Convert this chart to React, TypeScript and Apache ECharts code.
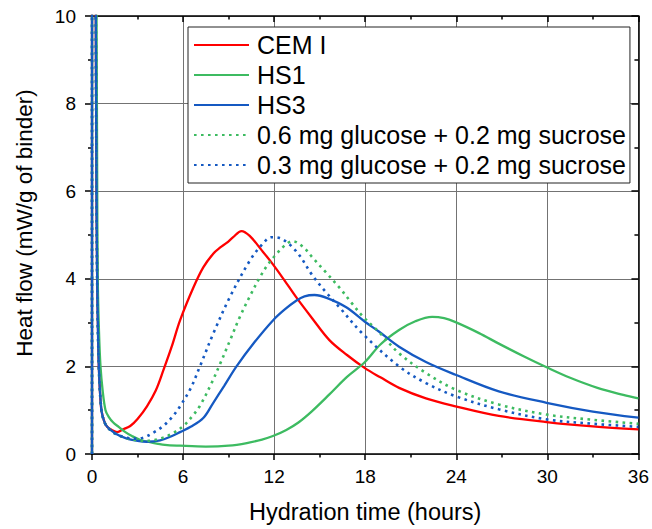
import React, { useEffect, useRef } from "react";
import * as echarts from "echarts";

// ---- Data (hours, mW/g of binder) ----
const xTicks = [0, 6, 12, 18, 24, 30, 36];
const yTicks = [0, 2, 4, 6, 8, 10];

const seriesNames = [
  "CEM I",
  "HS1",
  "HS3",
  "0.6 mg glucose + 0.2 mg sucrose",
  "0.3 mg glucose + 0.2 mg sucrose",
];

const cemT = [0, 0.03, 0.25, 0.29, 0.34, 0.4, 0.45, 0.53, 0.62, 0.8, 1.0, 1.3, 1.65, 2.09, 2.52, 3.0, 3.62, 4.2, 4.71, 5.25, 5.8, 6.68, 7.33, 8.0, 8.43, 8.87, 9.3, 9.85, 10.39, 11.16, 11.92, 12.69, 13.45, 14.5, 15.64, 16.8, 17.98, 19.0, 20.23, 22.0, 23.95, 26.8, 29.95, 33.0, 36.0];
const cemV = [0, 30, 10, 6.5, 4, 2.8, 2, 1.4, 1.0, 0.75, 0.62, 0.55, 0.5, 0.57, 0.64, 0.8, 1.09, 1.45, 1.92, 2.45, 3.05, 3.8, 4.26, 4.58, 4.71, 4.82, 4.95, 5.09, 4.98, 4.66, 4.33, 3.96, 3.58, 3.1, 2.6, 2.26, 1.96, 1.75, 1.51, 1.27, 1.09, 0.87, 0.73, 0.63, 0.56];

const hs1T = [0, 0.05, 0.3, 0.34, 0.38, 0.46, 0.56, 0.7, 0.89, 1.1, 1.4, 1.76, 2.2, 2.63, 3.2, 3.95, 4.8, 5.8, 7.5, 9.0, 10.2, 11.2, 11.92, 12.8, 13.6, 14.5, 15.64, 16.8, 17.98, 19.0, 20.23, 21.3, 22.41, 23.2, 23.95, 25.5, 26.8, 28.5, 29.95, 31.5, 33.3, 35.0, 36.0];
const hs1V = [0, 30, 10, 6.5, 4, 2.8, 2.0, 1.45, 1.0, 0.85, 0.72, 0.62, 0.5, 0.41, 0.32, 0.26, 0.21, 0.19, 0.17, 0.19, 0.25, 0.33, 0.41, 0.55, 0.72, 0.98, 1.36, 1.76, 2.1, 2.5, 2.83, 3.03, 3.13, 3.1, 3.01, 2.76, 2.52, 2.22, 1.98, 1.74, 1.51, 1.35, 1.27];

const hs3T = [0, 0.01, 0.25, 0.29, 0.34, 0.45, 0.62, 0.8, 1.0, 1.54, 2.3, 3.0, 3.62, 4.49, 5.2, 5.8, 6.5, 7.33, 7.99, 8.7, 9.52, 10.7, 11.92, 12.7, 13.45, 14.0, 14.66, 15.5, 16.75, 17.98, 18.92, 20.23, 22.0, 23.95, 26.8, 29.95, 33.0, 36.0];
const hs3V = [0, 30, 10, 6.5, 4, 2, 1, 0.75, 0.62, 0.47, 0.35, 0.3, 0.28, 0.31, 0.4, 0.5, 0.62, 0.82, 1.17, 1.55, 2.0, 2.55, 3.05, 3.3, 3.5, 3.6, 3.63, 3.56, 3.35, 3.02, 2.79, 2.45, 2.1, 1.81, 1.43, 1.17, 0.97, 0.83];

const g06T = [0, 0.03, 0.25, 0.29, 0.34, 0.45, 0.62, 0.8, 1.0, 1.5, 2.3, 3.0, 3.62, 4.49, 5.2, 6.02, 6.6, 7.11, 7.88, 8.43, 9.1, 9.74, 10.4, 11.05, 11.6, 12.14, 12.7, 13.2, 13.9, 14.54, 15.4, 16.3, 17.1, 17.82, 18.92, 20.23, 22.0, 23.95, 26.8, 29.95, 33.0, 36.0];
const g06V = [0, 30, 10, 6.5, 4, 2, 1, 0.75, 0.62, 0.47, 0.36, 0.31, 0.3, 0.35, 0.45, 0.64, 0.86, 1.1, 1.62, 2.05, 2.6, 3.13, 3.6, 4.03, 4.33, 4.56, 4.76, 4.86, 4.73, 4.48, 4.15, 3.8, 3.45, 3.15, 2.78, 2.3, 1.85, 1.47, 1.13, 0.9, 0.78, 0.69];

const g03T = [0, 0.03, 0.25, 0.29, 0.34, 0.45, 0.62, 0.8, 1.0, 1.5, 2.3, 3.0, 3.5, 4.1, 4.7, 5.25, 5.8, 6.5, 7.11, 7.99, 9.08, 10.39, 11.2, 11.82, 12.36, 13.45, 14.54, 15.4, 16.3, 17.82, 20.23, 22.0, 23.95, 26.8, 29.95, 33.0, 36.0];
const g03V = [0, 30, 10, 6.5, 4, 2, 1, 0.75, 0.62, 0.47, 0.37, 0.35, 0.39, 0.5, 0.64, 0.83, 1.09, 1.5, 2.0, 2.75, 3.58, 4.41, 4.78, 4.95, 4.93, 4.63, 4.07, 3.7, 3.35, 2.75, 2.0, 1.62, 1.32, 1.02, 0.79, 0.69, 0.62];

const RED = "#ff0000";
const GREEN = "#3dbb61";
const BLUE = "#1559c2";
const FONT = "'Liberation Sans', Arial, Helvetica, sans-serif";

const zip = (t: number[], v: number[]) => t.map((x, i) => [x, v[i]]);

export default function App() {
  const ref = useRef<HTMLDivElement>(null);

  useEffect(() => {
    if (!ref.current) return;
    const chart = echarts.init(ref.current, undefined, { renderer: "svg" });

    const mkLine = (
      name: string,
      t: number[],
      v: number[],
      color: string,
      dotted: boolean,
      z: number
    ) => ({
      name,
      type: "line",
      data: zip(t, v),
      showSymbol: false,
      symbol: "none",
      smooth: 0.35,
      clip: true,
      z,
      lineStyle: {
        color,
        width: dotted ? 2.6 : 2.3,
        type: dotted ? [2.6, 4.4] : "solid",
        cap: "butt",
      },
      itemStyle: { color },
    });

    const axisLine = { show: true, onZero: false, lineStyle: { color: "#000", width: 1.5 } };

    const option: any = {
      animation: false,
      backgroundColor: "#fff",
      textStyle: { fontFamily: FONT },
      grid: { left: 92, right: 13, top: 16, bottom: 71, containLabel: false },
      xAxis: [
        {
          type: "value",
          position: "bottom",
          min: xTicks[0],
          max: xTicks[xTicks.length - 1],
          interval: 6,
          axisLine,
          axisTick: { show: true, length: 6, lineStyle: { color: "#000", width: 1.5 } },
          minorTick: { show: true, splitNumber: 2, length: 3.5, lineStyle: { color: "#000", width: 1.5 } },
          axisLabel: { color: "#000", fontSize: 19, margin: 13, fontFamily: FONT },
          splitLine: { show: true, lineStyle: { color: "#737373", width: 1 } },
          name: "Hydration time (hours)",
          nameLocation: "middle",
          nameGap: 46,
          nameTextStyle: { color: "#000", fontSize: 23.5, fontFamily: FONT },
        },
        {
          type: "value",
          position: "top",
          min: xTicks[0],
          max: xTicks[xTicks.length - 1],
          interval: 6,
          axisLine,
          axisTick: { show: true, inside: true, length: 6, lineStyle: { color: "#000", width: 1.5 } },
          minorTick: { show: true, splitNumber: 2, length: 3.5, lineStyle: { color: "#000", width: 1.5 } },
          axisLabel: { show: false },
          splitLine: { show: false },
        },
      ],
      yAxis: [
        {
          type: "value",
          position: "left",
          min: yTicks[0],
          max: yTicks[yTicks.length - 1],
          interval: 2,
          axisLine,
          axisTick: { show: true, length: 7, lineStyle: { color: "#000", width: 1.5 } },
          minorTick: { show: true, splitNumber: 2, length: 4, lineStyle: { color: "#000", width: 1.5 } },
          axisLabel: { color: "#000", fontSize: 19, margin: 16, fontFamily: FONT },
          splitLine: { show: true, lineStyle: { color: "#737373", width: 1 } },
        },
        {
          type: "value",
          position: "right",
          min: yTicks[0],
          max: yTicks[yTicks.length - 1],
          interval: 2,
          axisLine,
          axisTick: { show: true, inside: true, length: 7, lineStyle: { color: "#000", width: 1.5 } },
          minorTick: { show: true, splitNumber: 2, length: 4, lineStyle: { color: "#000", width: 1.5 } },
          axisLabel: { show: false },
          splitLine: { show: false },
        },
      ],
      legend: {
        orient: "vertical",
        left: 188,
        top: 27,
        padding: [3, 4, 3, 5],
        itemWidth: 55,
        itemHeight: 14,
        itemGap: 0,
        selectedMode: false,
        backgroundColor: "#fff",
        borderColor: "#222",
        borderWidth: 1,
        itemStyle: { opacity: 0, borderWidth: 0 },
        textStyle: {
          color: "#000",
          fontSize: 25,
          lineHeight: 30,
          fontFamily: FONT,
          padding: [0, 0, 0, 3],
        },
        data: seriesNames,
      },
      graphic: [
        {
          type: "text",
          x: 24,
          y: 223,
          rotation: Math.PI / 2,
          style: {
            text: "Heat flow (mW/g of binder)",
            fill: "#000",
            font: `22.5px ${FONT}`,
            align: "center",
            verticalAlign: "middle",
          },
        },
      ],
      series: [
        mkLine(seriesNames[0], cemT, cemV, RED, false, 2),
        mkLine(seriesNames[1], hs1T, hs1V, GREEN, false, 3),
        mkLine(seriesNames[2], hs3T, hs3V, BLUE, false, 4),
        mkLine(seriesNames[3], g06T, g06V, GREEN, true, 5),
        mkLine(seriesNames[4], g03T, g03V, BLUE, true, 6),
      ],
    };

    chart.setOption(option);
    return () => chart.dispose();
  }, []);

  return (
    <div
      ref={ref}
      style={{ position: "absolute", left: 0, top: 0, width: 652, height: 529 }}
    />
  );
}
